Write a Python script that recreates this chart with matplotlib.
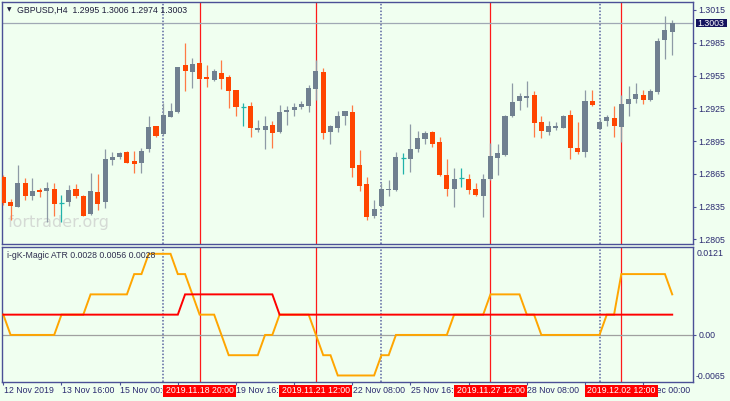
import numpy as np
import matplotlib
matplotlib.use('Agg')
import matplotlib.pyplot as plt
from matplotlib.patches import Rectangle
from matplotlib.transforms import blended_transform_factory

# ---------------- data ----------------
opens = [1.28617, 1.28394, 1.28349, 1.28568, 1.28449, 1.28504, 1.28492, 1.28510, 1.28379, 1.28388,
         1.28510, 1.28449, 1.28278, 1.28486, 1.28388, 1.28776, 1.28806, 1.28852, 1.28764, 1.28751,
         1.28874, 1.29084, 1.29014, 1.29173, 1.29216, 1.29643, 1.29585, 1.29667, 1.29536, 1.29509,
         1.29576, 1.29536, 1.29417, 1.29258, 1.29271, 1.29048, 1.29048, 1.29093, 1.29032, 1.29216,
         1.29231, 1.29264, 1.29274, 1.29423, 1.29579, 1.29032, 1.29072, 1.29182, 1.29213, 1.28730,
         1.28556, 1.28266, 1.28358, 1.28498, 1.28501, 1.28791, 1.28782, 1.28880, 1.28968, 1.29035,
         1.28938, 1.28639, 1.28513, 1.28614, 1.28605, 1.28513, 1.28449, 1.28603, 1.28798, 1.28822,
         1.29180, 1.29317, 1.29347, 1.29369, 1.29128, 1.29033, 1.29073, 1.29073, 1.29186, 1.28887,
         1.28853, 1.29314, 1.29064, 1.29134, 1.29164, 1.29082, 1.29290, 1.29332, 1.29369, 1.29326,
         1.29396, 1.29876, 1.29950]
highs = [1.28640, 1.28416, 1.28730, 1.28608, 1.28614, 1.28516, 1.28571, 1.28562, 1.28455, 1.28547,
         1.28553, 1.28455, 1.28654, 1.28648, 1.28880, 1.28846, 1.28852, 1.28855, 1.28858, 1.28883,
         1.29179, 1.29090, 1.29295, 1.29295, 1.29631, 1.29844, 1.29710, 1.29677, 1.29646, 1.29606,
         1.29692, 1.29554, 1.29420, 1.29295, 1.29310, 1.29142, 1.29182, 1.29136, 1.29277, 1.29271,
         1.29295, 1.29316, 1.29463, 1.29692, 1.29616, 1.29100, 1.29225, 1.29225, 1.29277, 1.28865,
         1.28623, 1.28407, 1.28562, 1.28593, 1.28846, 1.28837, 1.29106, 1.29045, 1.29045, 1.29040,
         1.28987, 1.28788, 1.28706, 1.28700, 1.28645, 1.28562, 1.28648, 1.28929, 1.28923, 1.29189,
         1.29479, 1.29387, 1.29503, 1.29412, 1.29180, 1.29137, 1.29128, 1.29189, 1.29235, 1.29122,
         1.29418, 1.29418, 1.29149, 1.29189, 1.29271, 1.29372, 1.29454, 1.29485, 1.29418, 1.29424,
         1.29891, 1.30095, 1.30060]
lows = [1.28360, 1.28226, 1.28342, 1.28410, 1.28410, 1.28440, 1.28211, 1.28266, 1.28211, 1.28358,
        1.28425, 1.28263, 1.28272, 1.28318, 1.28339, 1.28730, 1.28782, 1.28748, 1.28654, 1.28660,
        1.28846, 1.28984, 1.29008, 1.29170, 1.29210, 1.29411, 1.29432, 1.29515, 1.29448, 1.29503,
        1.29423, 1.29255, 1.29179, 1.29090, 1.28990, 1.29032, 1.28874, 1.28883, 1.29020, 1.29097,
        1.29179, 1.29240, 1.29219, 1.29325, 1.28968, 1.28923, 1.29029, 1.29097, 1.28617, 1.28495,
        1.28226, 1.28242, 1.28349, 1.28446, 1.28495, 1.28648, 1.28669, 1.28849, 1.28923, 1.28892,
        1.28630, 1.28449, 1.28349, 1.28532, 1.28468, 1.28450, 1.28257, 1.28593, 1.28639, 1.28813,
        1.29174, 1.29235, 1.29265, 1.28990, 1.28981, 1.29006, 1.29051, 1.29067, 1.28783, 1.28832,
        1.28807, 1.29271, 1.29057, 1.29088, 1.28990, 1.28945, 1.29180, 1.29302, 1.29290, 1.29320,
        1.29378, 1.29705, 1.29740]
closes = [1.28379, 1.28358, 1.28562, 1.28446, 1.28495, 1.28483, 1.28523, 1.28370, 1.28379, 1.28501,
          1.28449, 1.28266, 1.28495, 1.28373, 1.28785, 1.28806, 1.28843, 1.28751, 1.28739, 1.28861,
          1.29075, 1.28999, 1.29185, 1.29225, 1.29625, 1.29594, 1.29658, 1.29521, 1.29515, 1.29594,
          1.29518, 1.29405, 1.29264, 1.29258, 1.29066, 1.29069, 1.29084, 1.29020, 1.29213, 1.29231,
          1.29261, 1.29286, 1.29435, 1.29594, 1.29026, 1.29087, 1.29179, 1.29222, 1.28706, 1.28541,
          1.28257, 1.28327, 1.28513, 1.28513, 1.28803, 1.28791, 1.28880, 1.28977, 1.29026, 1.28926,
          1.28639, 1.28510, 1.28602, 1.28614, 1.28498, 1.28455, 1.28602, 1.28813, 1.28841, 1.29180,
          1.29311, 1.29363, 1.29360, 1.29112, 1.29042, 1.29088, 1.29088, 1.29180, 1.28890, 1.28850,
          1.29320, 1.29280, 1.29128, 1.29170, 1.29091, 1.29290, 1.29332, 1.29381, 1.29326, 1.29412,
          1.29870, 1.29967, 1.30030]

atr_orange = [0.0028, 0.0, 0.0, 0.0, 0.0, 0.0, 0.0, 0.0, 0.0028, 0.0028,
              0.0028, 0.0028, 0.0056, 0.0056, 0.0056, 0.0056, 0.0056, 0.0056, 0.0084, 0.0084,
              0.0112, 0.0112, 0.0112, 0.0112, 0.0084, 0.0084, 0.0056, 0.0028, 0.0028, 0.0028,
              0.0, -0.0028, -0.0028, -0.0028, -0.0028, -0.0028, 0.0, 0.0, 0.0028, 0.0028,
              0.0028, 0.0028, 0.0028, 0.0, -0.0028, -0.0028, -0.0056, -0.0056, -0.0056, -0.0056,
              -0.0056, -0.0056, -0.0028, -0.0028, 0.0, 0.0, 0.0, 0.0, 0.0, 0.0,
              0.0, 0.0, 0.0028, 0.0028, 0.0028, 0.0028, 0.0028, 0.0056, 0.0056, 0.0056,
              0.0056, 0.0056, 0.0028, 0.0028, 0.0, 0.0, 0.0, 0.0, 0.0, 0.0,
              0.0, 0.0, 0.0, 0.0028, 0.0028, 0.0084, 0.0084, 0.0084, 0.0084, 0.0084,
              0.0084, 0.0084, 0.0056]
atr_red = [0.0028, 0.0028, 0.0028, 0.0028, 0.0028, 0.0028, 0.0028, 0.0028, 0.0028, 0.0028,
           0.0028, 0.0028, 0.0028, 0.0028, 0.0028, 0.0028, 0.0028, 0.0028, 0.0028, 0.0028,
           0.0028, 0.0028, 0.0028, 0.0028, 0.0028, 0.0056, 0.0056, 0.0056, 0.0056, 0.0056,
           0.0056, 0.0056, 0.0056, 0.0056, 0.0056, 0.0056, 0.0056, 0.0056, 0.0028, 0.0028,
           0.0028, 0.0028, 0.0028, 0.0028, 0.0028, 0.0028, 0.0028, 0.0028, 0.0028, 0.0028,
           0.0028, 0.0028, 0.0028, 0.0028, 0.0028, 0.0028, 0.0028, 0.0028, 0.0028, 0.0028,
           0.0028, 0.0028, 0.0028, 0.0028, 0.0028, 0.0028, 0.0028, 0.0028, 0.0028, 0.0028,
           0.0028, 0.0028, 0.0028, 0.0028, 0.0028, 0.0028, 0.0028, 0.0028, 0.0028, 0.0028,
           0.0028, 0.0028, 0.0028, 0.0028, 0.0028, 0.0028, 0.0028, 0.0028, 0.0028, 0.0028,
           0.0028, 0.0028, 0.0028]

price_ticks = [1.3015, 1.2985, 1.2955, 1.2925, 1.2895, 1.2865, 1.2835, 1.2805]
bid_price = 1.3003
time_tick_idx = [0, 8, 16, 24, 32, 40, 48, 56, 64, 72, 80, 88]
# labels fully covered by the red time boxes in the reference are left empty
time_tick_labels = ['12 Nov 2019', '13 Nov 16:00', '15 Nov 00:00', '',
                    '19 Nov 16:00', '', '22 Nov 08:00', '25 Nov 16:00',
                    '', '28 Nov 08:00', '', '3 Dec 00:00']
separator_idx = [22, 52, 82]
vline_idx = [27, 43, 67, 85]
vline_labels = ['2019.11.18 20:00', '2019.11.21 12:00', '2019.11.27 12:00', '2019.12.02 12:00']
title_main = 'GBPUSD,H4  1.2995 1.3006 1.2974 1.3003'
title_ind = 'i-gK-Magic ATR 0.0028 0.0056 0.0028'

# ---------------- style ----------------
BG = '#F0FFF0'
FRAME = '#4B5096'
LABEL = '#2A2A70'
BULL = '#708090'
BULL_WICK = '#8E9AA6'
BEAR = '#FF4500'
BEAR_WICK = '#FF7A45'
DOJI = '#20B2AA'
FONT = 'Liberation Sans'
FS = 6.3

W, H = 730, 401
fig = plt.figure(figsize=(W / 100, H / 100), dpi=100, facecolor=BG)
ax = fig.add_axes([2.3 / W, 1 - 244.3 / H, 691 / W, 242.6 / H], facecolor=BG)
ax2 = fig.add_axes([2.3 / W, 1 - 382.0 / H, 691 / W, 134.7 / H], facecolor=BG)

x = np.arange(len(opens))
xlim = (-0.14, 94.9)

# ---------------- candles ----------------
for i in x:
    o, h, l, c = opens[i], highs[i], lows[i], closes[i]
    if abs(c - o) < 1e-7:
        ax.vlines(i, l, h, color=DOJI, lw=0.9, zorder=3)
        ax.hlines(c, i - 0.34, i + 0.34, color=DOJI, lw=0.9, zorder=4)
        continue
    if c > o:
        body, wick = BULL, BULL_WICK
    else:
        body, wick = BEAR, BEAR_WICK
    ax.vlines(i, l, h, color=wick, lw=0.9, zorder=3)
    ax.bar(i, abs(c - o), bottom=min(o, c), width=0.7, color=body, lw=0, zorder=4)

ax.axhline(bid_price, color='#A0A8B4', lw=0.9, zorder=2)

for a in (ax, ax2):
    for xi in separator_idx:
        a.axvline(xi, color='#5A64A0', lw=1.1, linestyle=(0, (1.0, 1.2)), zorder=1)
    for xi in vline_idx:
        a.axvline(xi, color='#FF1A1A', lw=0.9, zorder=1)
    a.set_xlim(*xlim)
    for s in a.spines.values():
        s.set_color(FRAME)
        s.set_linewidth(1.0)

ax.set_ylim(1.28004, 1.30226)
ax.yaxis.tick_right()
ax.set_yticks(price_ticks)
ax.set_yticklabels([f'{p:.4f}' for p in price_ticks])
ax.tick_params(axis='y', direction='out', length=2.2, width=0.8, color=FRAME,
               labelcolor=LABEL, labelsize=FS, pad=1.6)
for t in ax.get_yticklabels():
    t.set_fontfamily(FONT)
ax.set_xticks([])

# bid label
tb = blended_transform_factory(ax.transAxes, ax.transData)
ax.add_patch(Rectangle((1.0035, bid_price - 0.00039), 0.0448, 0.00078, transform=tb,
                       facecolor='#14145E', edgecolor='none', clip_on=False, zorder=10))
ax.text(1.0059, bid_price, f'{bid_price:.4f}', transform=tb, color='white', fontsize=FS,
        family=FONT, ha='left', va='center', clip_on=False, zorder=11)

# titles
ax.text(5 / 691, 1 - 8.3 / 242.6, '\u25BC', transform=ax.transAxes, fontsize=4.2,
        color='#202040', ha='left', va='center', family='DejaVu Sans')
ax.text(15 / 691, 1 - 8.3 / 242.6, title_main, transform=ax.transAxes, fontsize=FS,
        color='#1E1E3C', ha='left', va='center', family=FONT)
ax.text(5 / 691, 1 - 220.8 / 242.6, 'fortrader.org', transform=ax.transAxes,
        fontsize=11.5, color='#D5DAD5', ha='left', va='center', family='DejaVu Sans', zorder=0)

# ---------------- indicator ----------------
ax2.axhline(0.0, color='#A0A0A0', lw=0.9, zorder=1)
ax2.plot(x, atr_orange, color='#FFA500', lw=1.4, zorder=3, solid_joinstyle='miter')
ax2.plot(x, atr_red, color='#FF0000', lw=1.4, zorder=4, solid_joinstyle='miter')
ax2.set_ylim(-0.0065, 0.0121)
ax2.yaxis.tick_right()
ax2.set_yticks([0.0])
ax2.set_yticklabels(['0.00'])
ax2.tick_params(axis='y', direction='out', length=2.2, width=0.8, color=FRAME,
                labelcolor=LABEL, labelsize=FS, pad=1.6)
for t in ax2.get_yticklabels():
    t.set_fontfamily(FONT)
ax2.text(1.0054, 1 - 6.5 / 134.7, '0.0121', transform=ax2.transAxes, fontsize=FS,
         color=LABEL, family=FONT, ha='left', va='center', clip_on=False)
ax2.text(1.0040, 5.5 / 134.7, '-0.0065', transform=ax2.transAxes, fontsize=FS,
         color=LABEL, family=FONT, ha='left', va='center', clip_on=False)
ax2.text(5 / 691, 1 - 8.5 / 134.7, title_ind, transform=ax2.transAxes, fontsize=FS,
         color='#303050', ha='left', va='center', family=FONT)

ax2.set_xticks(time_tick_idx)
ax2.set_xticklabels([''] * len(time_tick_idx))
ax2.tick_params(axis='x', direction='out', length=2.5, width=0.8, color=FRAME)

tx = blended_transform_factory(ax2.transData, fig.transFigure)
ylab = 1 - 390.7 / H
for xi, lab in zip(time_tick_idx, time_tick_labels):
    if lab:
        ax2.text(xi + 0.05, ylab, lab, transform=tx, fontsize=FS, color=LABEL, family=FONT,
                 ha='left', va='center', clip_on=False, zorder=5)
for xi, lab in zip(vline_idx, vline_labels):
    ax2.add_patch(Rectangle((xi - 5.02, 1 - 396.5 / H), 10.04, 11.5 / H, transform=tx,
                            facecolor='#FF0000', edgecolor='none', clip_on=False, zorder=10))
    ax2.text(xi, ylab, lab, transform=tx, fontsize=FS, color='white', family=FONT,
             ha='center', va='center', clip_on=False, zorder=11)

fig.savefig('out.png', dpi=100, facecolor=BG)
